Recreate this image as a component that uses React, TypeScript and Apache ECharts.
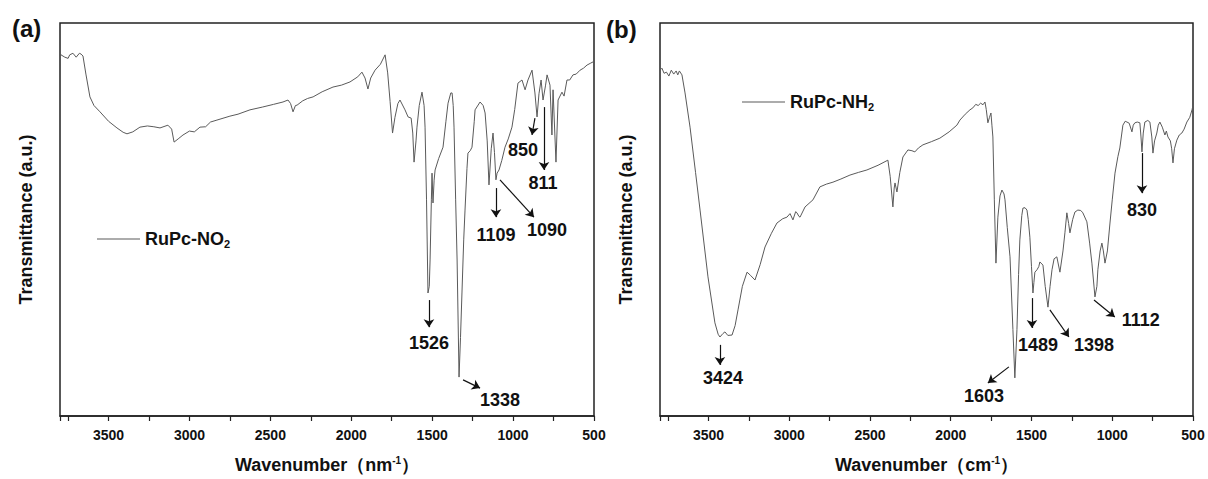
import React, { useEffect, useRef } from "react";
import * as echarts from "echarts";

// ---------- Data ----------
// Panel (a): RuPc-NO2
const wavenumberA = [
  3800, 3794, 3770, 3750, 3740, 3720, 3700, 3680, 3670, 3658, 3640, 3615, 3590, 3553, 3500, 3448, 3410, 3386, 3350, 3306,
  3260, 3220, 3182, 3133, 3110, 3095, 3070, 3040, 3000, 2970, 2935, 2900, 2870, 2830, 2750, 2700, 2626, 2550, 2480, 2422,
  2391, 2375, 2360, 2345, 2335, 2300, 2270, 2236, 2180, 2113, 2060, 2008, 1960, 1934, 1915, 1897, 1880, 1853, 1820, 1791,
  1775, 1760, 1745, 1730, 1712, 1699, 1668, 1649, 1630, 1620, 1612, 1600, 1594, 1580, 1563, 1550, 1544, 1535, 1526, 1518,
  1513, 1505, 1501, 1495, 1488, 1482, 1460, 1433, 1415, 1402, 1385, 1377, 1370, 1365, 1355, 1346, 1334, 1325, 1316, 1305,
  1297, 1285, 1279, 1265, 1254, 1240, 1235, 1204, 1185, 1173, 1160, 1149, 1135, 1124, 1115, 1106, 1099, 1087, 1070, 1050,
  1030, 1007, 990, 970, 945, 926, 908, 883, 865, 852, 840, 827, 815, 800, 790, 772, 760, 753, 735, 722,
  698, 685, 667, 650, 630, 610, 586, 565, 543, 520, 506, 500,
];
const transmittanceA = [
  91.6, 91.9, 91.3, 91.0, 91.9, 92.3, 91.3, 92.3, 92.1, 91.6, 87.0, 81.2, 79.0, 77.4, 75.0, 73.3, 72.2, 71.8, 72.3, 73.5,
  73.8, 73.6, 73.3, 74.0, 73.0, 69.7, 70.5, 71.5, 72.5, 72.3, 73.5, 73.6, 74.8, 75.3, 76.3, 76.8, 77.9, 78.6, 79.3, 79.9,
  80.4, 79.5, 77.4, 79.0, 79.1, 80.2, 80.8, 81.2, 82.5, 83.7, 84.2, 85.0, 86.3, 87.5, 86.0, 83.2, 86.0, 88.0, 89.5, 91.9,
  87.3, 80.0, 72.0, 76.0, 79.5, 80.4, 77.9, 76.1, 75.8, 72.0, 64.6, 70.0, 73.5, 79.0, 82.4, 79.0, 73.5, 55.0, 31.3, 33.0,
  39.7, 55.0, 61.8, 54.2, 60.0, 62.6, 65.5, 68.4, 75.0, 79.6, 82.2, 82.2, 79.0, 73.5, 55.0, 39.7, 9.9, 20.0, 31.3, 45.0,
  52.4, 63.0, 66.9, 67.5, 68.4, 75.0, 77.9, 79.9, 79.0, 77.1, 70.0, 58.8, 68.0, 72.0, 67.0, 60.1, 61.8, 62.6, 65.0, 68.4,
  70.5, 73.5, 78.0, 84.7, 85.5, 83.0, 85.5, 88.0, 82.2, 76.1, 82.0, 85.5, 80.4, 84.0, 86.8, 84.2, 71.5, 83.0, 64.6, 80.4,
  82.4, 81.4, 85.5, 85.5, 86.8, 87.0, 88.0, 88.5, 89.3, 89.8, 90.1, 90.3,
];

// Panel (b): RuPc-NH2
const wavenumberB = [
  3800, 3788, 3775, 3760, 3745, 3730, 3715, 3700, 3690, 3680, 3664, 3645, 3614, 3580, 3552, 3503, 3460, 3440, 3429, 3410,
  3398, 3380, 3354, 3335, 3317, 3290, 3261, 3240, 3212, 3180, 3150, 3110, 3076, 3040, 3014, 2995, 2977, 2960, 2952, 2940,
  2933, 2902, 2853, 2810, 2770, 2729, 2680, 2624, 2570, 2519, 2450, 2389, 2375, 2358, 2350, 2345, 2333, 2315, 2296, 2265,
  2240, 2222, 2200, 2172, 2120, 2067, 2010, 1962, 1943, 1910, 1881, 1863, 1845, 1830, 1815, 1800, 1788, 1780, 1770, 1760,
  1751, 1745, 1739, 1730, 1720, 1708, 1695, 1683, 1670, 1664, 1650, 1633, 1615, 1603, 1590, 1580, 1572, 1560, 1553, 1540,
  1528, 1520, 1510, 1500, 1491, 1485, 1479, 1466, 1455, 1448, 1429, 1415, 1398, 1385, 1373, 1360, 1343, 1324, 1305, 1293,
  1281, 1270, 1262, 1245, 1231, 1213, 1195, 1182, 1157, 1140, 1126, 1107, 1095, 1089, 1075, 1064, 1055, 1045, 1030, 1014,
  1000, 983, 965, 953, 934, 920, 909, 895, 878, 870, 860, 845, 829, 822, 816, 808, 798, 780, 767, 755,
  748, 738, 724, 715, 705, 690, 674, 665, 655, 640, 632, 624, 615, 600, 585, 569, 555, 538, 520, 506,
  500,
];
const transmittanceB = [
  88.0, 88.5, 87.2, 87.5, 86.5, 88.0, 87.0, 87.8, 86.8, 87.8, 86.8, 82.2, 73.5, 62.0, 52.4, 35.4, 23.7, 20.8, 20.1, 21.0,
  21.4, 20.5, 20.6, 23.0, 27.0, 33.0, 36.6, 35.8, 34.6, 38.5, 43.0, 46.5, 49.1, 50.2, 50.6, 51.5, 49.9, 52.0, 51.7, 50.8,
  50.6, 53.2, 55.0, 58.3, 59.0, 59.5, 60.3, 61.3, 62.0, 62.6, 63.8, 65.1, 61.0, 53.2, 58.0, 59.3, 57.0, 62.0, 65.9, 67.7,
  67.5, 67.2, 68.2, 69.0, 69.8, 70.7, 72.3, 74.0, 75.3, 76.8, 77.9, 78.4, 79.3, 79.0, 79.6, 79.2, 79.9, 78.0, 74.6, 76.0,
  77.1, 74.0, 71.0, 55.0, 38.9, 50.6, 56.0, 57.5, 56.5, 55.0, 48.0, 40.5, 22.0, 9.7, 22.0, 36.0, 44.8, 51.0, 52.9, 53.0,
  52.4, 50.0, 45.5, 38.0, 31.3, 34.0, 36.6, 37.2, 38.0, 39.2, 38.4, 33.0, 27.7, 33.0, 37.2, 40.0, 40.5, 36.6, 42.0, 46.6,
  51.7, 49.0, 46.6, 50.0, 51.9, 52.4, 52.3, 51.7, 49.4, 44.0, 38.9, 30.3, 33.0, 37.2, 42.0, 44.0, 42.0, 38.9, 42.0, 49.1,
  55.0, 61.8, 66.0, 68.2, 74.0, 75.0, 74.8, 74.5, 72.3, 74.0, 74.6, 74.8, 74.6, 71.0, 67.2, 72.0, 74.8, 75.2, 74.8, 71.0,
  66.9, 70.0, 72.0, 74.0, 74.8, 73.5, 71.5, 72.5, 71.0, 70.0, 68.0, 64.4, 68.0, 70.2, 71.5, 72.0, 73.0, 74.8, 76.0, 77.9,
  79.1,
];

// Peak annotations: label text, arrow start, arrow end, label anchor (data coordinates)
const peakLabelsA = ["1526", "1338", "1109", "1090", "850", "811"];
const arrowFromA = [[1520, 29.5], [1309, 9.2], [1106, 58.0], [1081, 60.1], [865, 75.8], [809, 78.6]];
const arrowToA = [[1520, 22.6], [1204, 7.1], [1106, 50.6], [871, 50.6], [883, 71.5], [809, 62.6]];
const labelAtA = [[1520, 18.6], [1081, 4.1], [1106, 46.1], [790, 47.3], [939, 67.7], [815, 59.3]];

const peakLabelsB = ["3424", "1603", "1489", "1398", "1112", "830"];
const arrowFromB = [[3429, 18.1], [1640, 12.5], [1497, 30.0], [1386, 27.0], [1113, 29.5], [816, 66.9]];
const arrowToB = [[3429, 13.0], [1770, 8.4], [1497, 22.4], [1268, 20.1], [984, 25.2], [816, 56.7]];
const labelAtB = [[3410, 9.7], [1794, 5.1], [1460, 18.1], [1113, 18.1], [823, 24.4], [816, 52.4]];

const xTicksMin = 500;
const xTicksMax = 3800;
const xTickStep = 250;

const seriesNames = ["RuPc-NO2", "RuPc-NH2"];

// ---------- Chart ----------
const FONT = 'Arial, "Liberation Sans", Helvetica, sans-serif';
const INK = "#111";
const CURVE = "#5a5a5a";

function zip(xs: number[], ys: number[]) {
  return xs.map((x, i) => [x, ys[i]]);
}

function buildAxisX(gridIndex: number, unit: string) {
  return {
    type: "value",
    gridIndex,
    min: xTicksMin,
    max: xTicksMax,
    interval: xTickStep,
    inverse: true,
    axisLine: { show: true, lineStyle: { color: "#222", width: 1.5 } },
    axisTick: { show: true, inside: false, length: 5, lineStyle: { color: "#222", width: 1.2 } },
    axisLabel: {
      formatter: (v: number) => (v % 500 === 0 ? String(v) : ""),
      fontFamily: FONT,
      fontWeight: "bold",
      fontSize: 14,
      color: INK,
      margin: 12,
      showMinLabel: true,
      showMaxLabel: true,
    },
    splitLine: { show: false },
    name: `{a|Wavenumber（${unit}}{s|-1}{a|）}`,
    nameLocation: "middle",
    nameGap: 39,
    nameTextStyle: {
      rich: {
        a: { fontFamily: FONT, fontWeight: "bold", fontSize: 18, color: INK },
        s: { fontFamily: FONT, fontWeight: "bold", fontSize: 10, color: INK, padding: [0, 0, 10, 0] },
      },
    },
  };
}

function buildAxisY(gridIndex: number) {
  return {
    type: "value",
    gridIndex,
    min: 0,
    max: 100,
    axisLine: { show: false },
    axisTick: { show: false },
    axisLabel: { show: false },
    splitLine: { show: false },
    name: "Transmittance (a.u.)",
    nameLocation: "middle",
    nameGap: 25,
    nameRotate: 90,
    nameTextStyle: { fontFamily: FONT, fontWeight: "bold", fontSize: 18, color: INK },
  };
}

function buildSeries(
  idx: number,
  xs: number[],
  ys: number[],
  labels: string[],
  from: number[][],
  to: number[][],
  at: number[][]
) {
  return {
    type: "line",
    name: seriesNames[idx],
    xAxisIndex: idx,
    yAxisIndex: idx,
    data: zip(xs, ys),
    showSymbol: false,
    symbol: "none",
    smooth: false,
    lineStyle: { color: CURVE, width: 1 },
    itemStyle: { color: CURVE },
    markLine: {
      silent: true,
      symbol: ["none", "arrow"],
      symbolSize: 8,
      lineStyle: { color: INK, width: 1.2, type: "solid" },
      label: { show: false },
      emphasis: { disabled: true },
      data: labels.map((_, i) => [{ coord: from[i] }, { coord: to[i] }]),
    },
    markPoint: {
      silent: true,
      symbol: "circle",
      symbolSize: 1,
      itemStyle: { color: "rgba(0,0,0,0)" },
      label: {
        show: true,
        position: "inside",
        formatter: "{b}",
        fontFamily: FONT,
        fontWeight: "bold",
        fontSize: 18,
        color: INK,
      },
      data: labels.map((l, i) => ({ name: l, coord: at[i] })),
    },
  };
}

function legendFor(name: string, sub: string, left: number, top: number) {
  return {
    data: [name],
    left,
    top,
    icon: "rect",
    itemWidth: 43,
    itemHeight: 1,
    itemGap: 0,
    padding: 0,
    itemStyle: { color: CURVE },
    formatter: () => `{a|${name.slice(0, -1)}}{s|${sub}}`,
    textStyle: {
      rich: {
        a: { fontFamily: FONT, fontWeight: "bold", fontSize: 18, color: INK },
        s: { fontFamily: FONT, fontWeight: "bold", fontSize: 11, color: INK, padding: [9, 0, 0, 0] },
      },
    },
  };
}

export default function App() {
  const ref = useRef<HTMLDivElement>(null);

  useEffect(() => {
    if (!ref.current) return;
    const chart = echarts.init(ref.current, undefined, { renderer: "svg" });
    const gridStyle = {
      show: true,
      borderColor: "#222",
      borderWidth: 1.5,
      backgroundColor: "transparent",
      containLabel: false,
    };
    const panelTitle = { fontFamily: FONT, fontWeight: "bold", fontSize: 24, color: INK };
    chart.setOption({
      animation: false,
      backgroundColor: "#fff",
      title: [
        { text: "(a)", left: 12, top: 16, padding: 0, textStyle: panelTitle },
        { text: "(b)", left: 606, top: 17, padding: 0, textStyle: panelTitle },
      ],
      grid: [
        { ...gridStyle, left: 60, top: 23, width: 534, height: 393 },
        { ...gridStyle, left: 660, top: 23, width: 533, height: 393 },
      ],
      legend: [legendFor(seriesNames[0], "2", 97, 230), legendFor(seriesNames[1], "2", 742, 93)],
      xAxis: [buildAxisX(0, "nm"), buildAxisX(1, "cm")],
      yAxis: [buildAxisY(0), buildAxisY(1)],
      series: [
        buildSeries(0, wavenumberA, transmittanceA, peakLabelsA, arrowFromA, arrowToA, labelAtA),
        buildSeries(1, wavenumberB, transmittanceB, peakLabelsB, arrowFromB, arrowToB, labelAtB),
      ],
    });
    return () => chart.dispose();
  }, []);

  return (
    <div
      ref={ref}
      style={{ position: "fixed", left: 0, top: 0, width: 1208, height: 479, background: "#fff" }}
    />
  );
}
